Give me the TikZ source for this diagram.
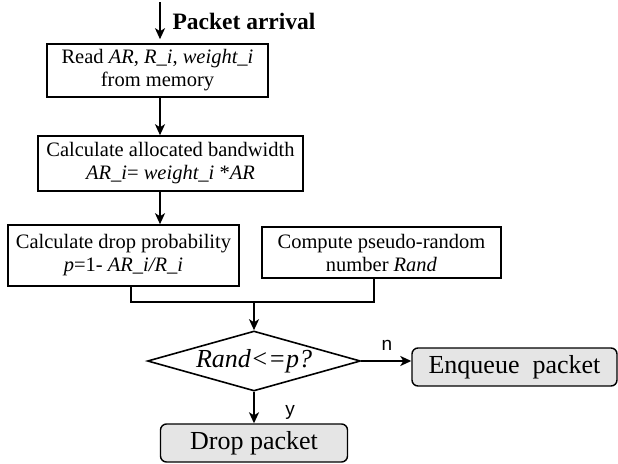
\documentclass[tikz,border=0pt]{standalone}
\usepackage{fontspec}
\setmainfont{Liberation Serif}
\newfontfamily\yesnofont{Liberation Sans}
\usetikzlibrary{shapes.geometric, arrows.meta, calc}

\tikzset{
  stepbox/.style={draw, line width=1.6pt, align=center, inner sep=2pt,
    font=\fontsize{20.5}{23}\selectfont},
  endbox/.style={draw, line width=1.4pt, rounded corners=6pt, fill=black!10,
    inner sep=0pt, font=\fontsize{26}{28}\selectfont},
  decision/.style={draw, diamond, aspect=3.55, line width=1.6pt, inner sep=0pt,
    font=\fontsize{26}{28}\selectfont\itshape},
  flow/.style={line width=1.8pt, -{Stealth[length=11pt, width=10pt, inset=3pt]}},
  yesno/.style={font=\fontsize{19}{20}\yesnofont}
}

\begin{document}
\begin{tikzpicture}[x=1pt, y=-1pt]

\useasboundingbox (0,0) rectangle (618,463);

% Define points
\coordinate (in) at (160, 2);
\coordinate (J) at (254, 302);

% Process boxes
\node[stepbox, minimum width=221pt, minimum height=53pt] (read) at (157.5, 70.5)
  {Read \textit{AR}, \textit{R\_i}, \textit{weight\_i}\\from memory};
\node[stepbox, minimum width=265pt, minimum height=55pt] (bw) at (170.5, 163.5)
  {Calculate allocated bandwidth\\\textit{AR\_i}= \textit{weight\_i} *\textit{AR}};
\node[stepbox, minimum width=231pt, minimum height=61pt] (prob) at (123.5, 255.5)
  {Calculate drop probability\\\textit{p}=1- \textit{AR\_i/R\_i}};
\node[stepbox, minimum width=239pt, minimum height=51pt] (rnd) at (381.5, 252.5)
  {Compute pseudo-random\\number \textit{Rand}};

% Decision and the two outcomes
\node[decision, minimum width=213pt, minimum height=60pt] (test) at (254, 361)
  {Rand<=p?};
\node[endbox, minimum width=205pt, minimum height=38pt] (enq) at (514.5, 367)
  {Enqueue\ \ packet};
\node[endbox, minimum width=187pt, minimum height=38pt] (drop) at (254, 443)
  {Drop packet};

% Packet arrival
\node[font=\fontsize{23.5}{25}\selectfont\bfseries, anchor=west] (arr) at (169, 21)
  {Packet arrival};
\draw[flow, shorten >=4pt] (in) -- (in |- read.north);

% Draw the main chain
\draw[flow] (read.south -| in) -- (bw.north -| in);
\draw[flow] (bw.south -| in) -- (prob.north -| in);

% Merge both branches into the test
\draw[line width=1.8pt] (prob.south -| 131,0) |- (J) -| (rnd.south -| 374,0);
\draw[flow] (J) -- (test.north);

% Outcomes
\draw[flow] (test.east) -- (test.east -| enq.west);
\draw[flow] (test.south) -- (drop.north);

% Labels
\node[yesno] (no) at (387, 345) {n};
\node[yesno] (yes) at (290, 412) {y};

\end{tikzpicture}
\end{document}
